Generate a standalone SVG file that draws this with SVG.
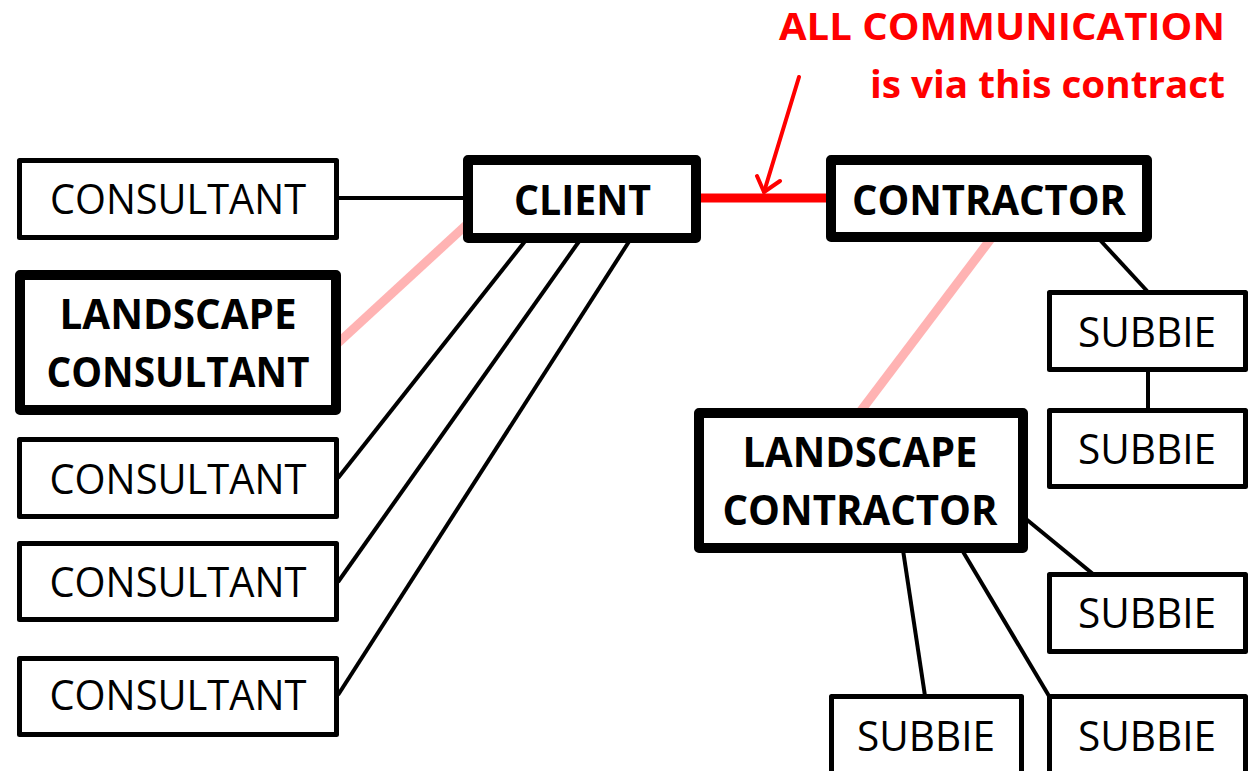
<svg xmlns="http://www.w3.org/2000/svg" width="1255" height="771" viewBox="0 0 1255 771">
  <style>
    .box { fill: #ffffff; stroke: #000000; stroke-linejoin: round; }
    .thin { stroke-width: 5; }
    .thick { stroke-width: 10; }
    .lbl { font-family: "Open Sans", "Noto Sans", "Liberation Sans", sans-serif; font-size: 42px; fill: #000000; text-anchor: middle; }
    .bold { font-weight: bold; }
    .link { stroke: #000000; stroke-width: 4; fill: none; }
    .soft { stroke: #ffb3b3; stroke-width: 9; fill: none; }
    .note { font-family: "Open Sans", "Noto Sans", "Liberation Sans", sans-serif; font-size: 38px; font-weight: bold; fill: #ff0000; text-anchor: end; }
  </style>
  <rect width="1255" height="771" fill="#ffffff"/>

  <!-- connectors, drawn beneath the boxes -->
  <g id="connectors">
    <line class="soft" x1="476" y1="216" x2="338" y2="343"/>
    <line class="soft" x1="996" y1="232" x2="860" y2="412"/>
    <line class="link" x1="339" y1="198" x2="465" y2="198"/>
    <line class="link" x1="526" y1="240" x2="338" y2="478"/>
    <line class="link" x1="580" y1="240" x2="338" y2="582"/>
    <line class="link" x1="630" y1="240" x2="338" y2="695"/>
    <line class="link" x1="1100" y1="240" x2="1148" y2="292"/>
    <line class="link" x1="1148" y1="370" x2="1148" y2="410"/>
    <line class="link" x1="1026" y1="519" x2="1093" y2="574"/>
    <line class="link" x1="903" y1="550" x2="925" y2="696"/>
    <line class="link" x1="962" y1="550" x2="1049" y2="696"/>
    <line x1="700" y1="198" x2="828" y2="198" stroke="#ff0000" stroke-width="9"/>
    <g id="callout-arrow" stroke="#ff0000" stroke-width="4" fill="none" stroke-linecap="round" stroke-linejoin="round">
      <line x1="799" y1="77" x2="764" y2="192"/>
      <polyline points="757,176 764,192 780,181"/>
    </g>
  </g>

  <g id="consultant-1">
    <rect class="box thin" x="19.5" y="160.5" width="317" height="77"/>
    <text class="lbl" x="178" y="214" textLength="256" lengthAdjust="spacingAndGlyphs">CONSULTANT</text>
  </g>
  <g id="landscape-consultant">
    <rect class="box thick" x="20" y="275" width="316" height="135"/>
    <text class="lbl bold" x="178" y="329" textLength="237" lengthAdjust="spacingAndGlyphs">LANDSCAPE</text>
    <text class="lbl bold" x="178" y="387" textLength="263" lengthAdjust="spacingAndGlyphs">CONSULTANT</text>
  </g>
  <g id="consultant-2">
    <rect class="box thin" x="19.5" y="439.5" width="317" height="77"/>
    <text class="lbl" x="178" y="494" textLength="257" lengthAdjust="spacingAndGlyphs">CONSULTANT</text>
  </g>
  <g id="consultant-3">
    <rect class="box thin" x="19.5" y="543.5" width="317" height="76"/>
    <text class="lbl" x="178" y="597" textLength="257" lengthAdjust="spacingAndGlyphs">CONSULTANT</text>
  </g>
  <g id="consultant-4">
    <rect class="box thin" x="19.5" y="658.5" width="317" height="76"/>
    <text class="lbl" x="178" y="710" textLength="257" lengthAdjust="spacingAndGlyphs">CONSULTANT</text>
  </g>

  <g id="client">
    <rect class="box thick" x="468" y="160" width="228" height="78"/>
    <text class="lbl bold" x="582.5" y="215" textLength="137" lengthAdjust="spacingAndGlyphs">CLIENT</text>
  </g>
  <g id="contractor">
    <rect class="box thick" x="831" y="160" width="316" height="77"/>
    <text class="lbl bold" x="989" y="215" textLength="274" lengthAdjust="spacingAndGlyphs">CONTRACTOR</text>
  </g>
  <g id="landscape-contractor">
    <rect class="box thick" x="699" y="413" width="324" height="135"/>
    <text class="lbl bold" x="860" y="467" textLength="235" lengthAdjust="spacingAndGlyphs">LANDSCAPE</text>
    <text class="lbl bold" x="860" y="525" textLength="275" lengthAdjust="spacingAndGlyphs">CONTRACTOR</text>
  </g>

  <g id="subbie-1">
    <rect class="box thin" x="1049.5" y="292.5" width="196" height="77"/>
    <text class="lbl" x="1147" y="347" textLength="138" lengthAdjust="spacingAndGlyphs">SUBBIE</text>
  </g>
  <g id="subbie-2">
    <rect class="box thin" x="1049.5" y="410.5" width="196" height="76"/>
    <text class="lbl" x="1147" y="464" textLength="138" lengthAdjust="spacingAndGlyphs">SUBBIE</text>
  </g>
  <g id="subbie-3">
    <rect class="box thin" x="1049.5" y="574.5" width="196" height="77"/>
    <text class="lbl" x="1147" y="628" textLength="138" lengthAdjust="spacingAndGlyphs">SUBBIE</text>
  </g>
  <g id="subbie-4">
    <rect class="box thin" x="831.5" y="696.5" width="190" height="100"/>
    <text class="lbl" x="926" y="751" textLength="138" lengthAdjust="spacingAndGlyphs">SUBBIE</text>
  </g>
  <g id="subbie-5">
    <rect class="box thin" x="1049.5" y="696.5" width="196" height="100"/>
    <text class="lbl" x="1147" y="751" textLength="138" lengthAdjust="spacingAndGlyphs">SUBBIE</text>
  </g>

  <g id="callout-text">
    <text class="note" x="1225" y="40" textLength="446" lengthAdjust="spacingAndGlyphs">ALL COMMUNICATION</text>
    <text class="note" x="1225" y="98" textLength="355" lengthAdjust="spacingAndGlyphs">is via this contract</text>
  </g>
</svg>
